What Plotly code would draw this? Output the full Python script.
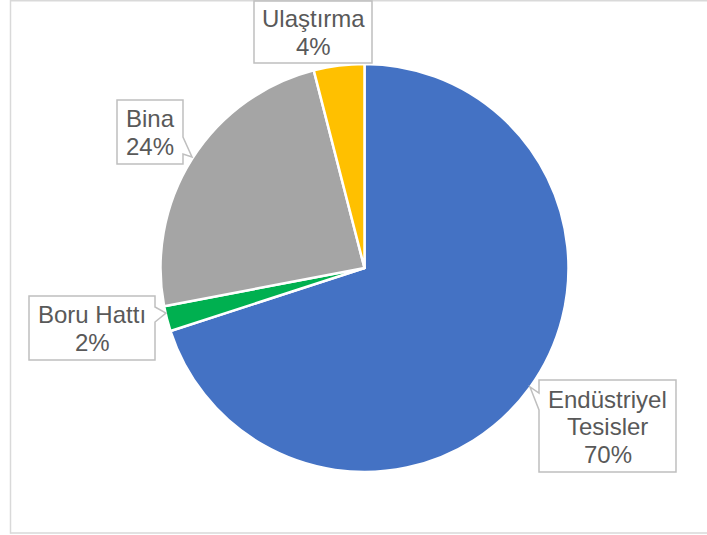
import plotly.graph_objects as go

# ---- data ----
labels = ["Endüstriyel Tesisler", "Boru Hattı", "Bina", "Ulaştırma"]
values = [70, 2, 24, 4]
colors = ["#4472C4", "#00B050", "#A5A5A5", "#FFC000"]

W, H = 707, 535

def px(x, y):
    return x / W, 1 - y / H

# callout box geometry (pixels): (x0, y0, x1, y1, notch_side, ya, yb, tipx, tipy)
callouts = [
    (539, 380, 676, 472, "left", 393, 410, 530, 387),
    (29, 296, 155, 360, "right", 307, 322, 166, 313),
    (117, 100, 183, 164, "right", 137, 154, 192, 157),
    (254, 1, 372, 63, None, 0, 0, 0, 0),
]

total = sum(values)
pct = [f"{round(v / total * 100)}%" for v in values]

fig = go.Figure()
cx, cy, r = 364.5, 268, 204
dx0, dy1 = px(cx - r, cy - r)
dx1, dy0 = px(cx + r, cy + r)
fig.add_trace(go.Pie(
    labels=labels, values=values, sort=False, direction="clockwise", rotation=0,
    marker=dict(colors=colors, line=dict(color="white", width=2.5)),
    textinfo="none", showlegend=False,
    domain=dict(x=[dx0, dx1], y=[dy0, dy1]),
))

def P(x, y):
    a, b = px(x, y)
    return f"{a:.5f},{b:.5f}"

shapes = []
# outer frame (top, left, bottom edges; right edge lies outside the view)
shapes.append(dict(type="line", xref="paper", yref="paper",
                   x0=px(10.5, 0)[0], x1=px(760, 0)[0], y0=px(0, 0.75)[1], y1=px(0, 0.75)[1],
                   line=dict(color="#D9D9D9", width=1.5), layer="below"))
shapes.append(dict(type="line", xref="paper", yref="paper",
                   x0=px(10.5, 0)[0], x1=px(760, 0)[0], y0=px(0, 533)[1], y1=px(0, 533)[1],
                   line=dict(color="#D9D9D9", width=1.5), layer="below"))
shapes.append(dict(type="line", xref="paper", yref="paper",
                   x0=px(10.5, 0)[0], x1=px(10.5, 0)[0], y0=px(0, 0)[1], y1=px(0, 533.7)[1],
                   line=dict(color="#D9D9D9", width=1.5), layer="below"))

annotations = []
for lab, p, c in zip(labels, pct, callouts):
    x0, y0, x1, y1, side, ya, yb, tx, ty = c
    if side == "right":
        path = (f"M{P(x0,y0)} L{P(x1,y0)} L{P(x1,ya)} L{P(tx,ty)} L{P(x1,yb)} "
                f"L{P(x1,y1)} L{P(x0,y1)} Z")
    elif side == "left":
        path = (f"M{P(x0,y0)} L{P(x1,y0)} L{P(x1,y1)} L{P(x0,y1)} L{P(x0,yb)} "
                f"L{P(tx,ty)} L{P(x0,ya)} Z")
    else:
        path = f"M{P(x0,y0)} L{P(x1,y0)} L{P(x1,y1)} L{P(x0,y1)} Z"
    shapes.append(dict(type="path", xref="paper", yref="paper", path=path,
                       fillcolor="white", line=dict(color="#BFBFBF", width=1.5), layer="above"))
    lines = lab.split(" ") if len(lab) > 12 else [lab]
    lines = lines + [p]
    n = len(lines)
    mx = (x0 + x1) / 2
    my = (y0 + y1) / 2 + 0.5
    sp = 27.5
    for i, t in enumerate(lines):
        yy = my + (i - (n - 1) / 2) * sp
        ax, ay = px(mx, yy)
        annotations.append(dict(x=ax, y=ay, xref="paper", yref="paper", text=t,
                                showarrow=False, xanchor="center", yanchor="middle",
                                font=dict(family="Liberation Sans, Arial", size=24, color="#595959")))

fig.update_layout(
    width=W, height=H, margin=dict(l=0, r=0, t=0, b=0),
    paper_bgcolor="white", plot_bgcolor="white",
    shapes=shapes, annotations=annotations,
)
fig.write_html("out.html", config={"displayModeBar": False},
               post_script="document.body.style.margin='0';document.body.style.overflow='hidden';")
